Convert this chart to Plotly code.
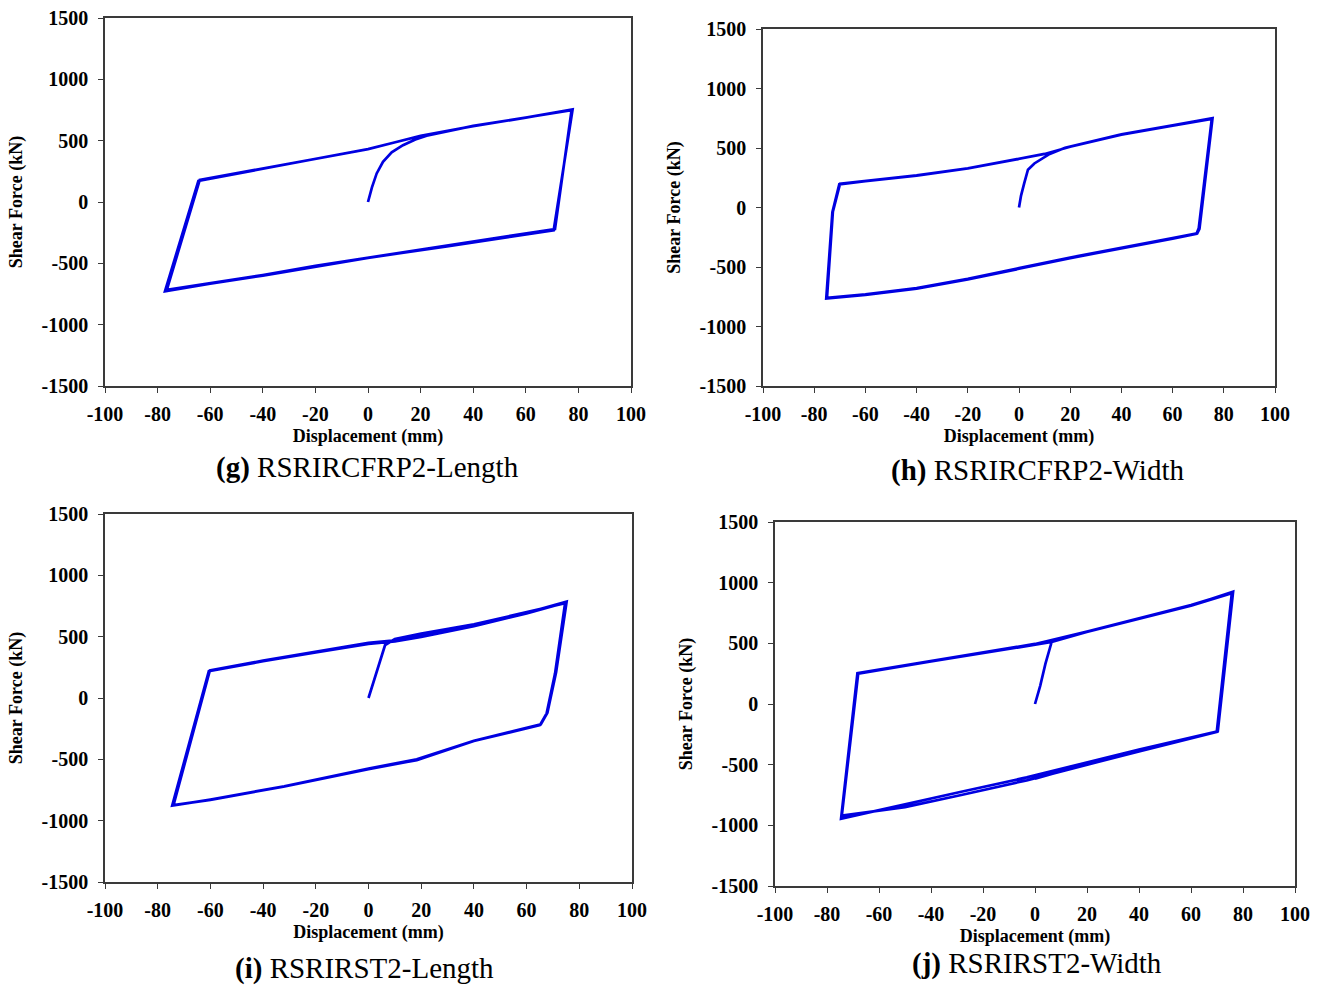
import plotly.graph_objects as go

# ---------------- data ----------------
x_ticks = [-100, -80, -60, -40, -20, 0, 20, 40, 60, 80, 100]
y_ticks = [-1500, -1000, -500, 0, 500, 1000, 1500]

captions = ["(g)", "(h)", "(i)", "(j)"]
caption_names = ["RSRIRCFRP2-Length", "RSRIRCFRP2-Width", "RSRIRST2-Length", "RSRIRST2-Width"]

g_disp = [0, 1.5, 3.3, 5.7, 9, 13.3, 18, 22.3, 40, 60, 77.4,
          71.1, 50, 30, 0, -20, -40, -60, -76.5,
          -64, -40, -20, 0, 20, 40, 60, 77.8,
          70.6, 50, 30, 0, -20, -40, -60, -77.2,
          -64.5, -40, -20, 0, 20]
g_force = [0, 120, 233, 328, 405, 463, 510, 540, 620, 690, 748,
           -220, -290, -355, -450, -520, -595, -660, -716,
           179, 275, 352, 430, 540, 618, 688, 755,
           -230, -298, -362, -455, -527, -600, -665, -728,
           172, 270, 350, 432, 538]

h_disp = [0, 0.8, 2, 3.5, 6, 8.2, 12, 18, 40, 60, 75.6,
          70.5, 69.6, 60, 40, 20, 0, -20, -40, -60, -75,
          -72.7, -69.9,
          -60, -40, -20, 0, 10, 20, 40, 60, 75.3,
          70.2, 69.3, 60, 40, 20, 0, -20, -40, -60, -75.3,
          -72.9, -70.2,
          -60, -40, -20, 0]
h_force = [0, 100, 200, 318, 370, 402, 450, 502, 615, 690, 751,
           -180, -218, -258, -340, -420, -510, -600, -678, -730, -760,
           -34, 200,
           225, 270, 330, 410, 450, 510, 612, 688, 745,
           -175, -222, -262, -345, -425, -515, -605, -683, -735, -765,
           -40, 195,
           222, 268, 328, 408]

i_disp = [0, 6.3, 10, 20, 40, 60, 74.6,
          70.8, 67.6, 65.1, 40, 18.3, 0, -32.3, -60, -74,
          -60.2, -40, -20, 0, 10, 20, 40, 60, 75.2,
          71.2, 67.9, 65.4, 40, 18.3, 0, -32, -60, -74.5,
          -60.6, -40, -20, 0, 10, 20, 40, 60, 75.0,
          71.0, 67.8, 65.2, 40, 18, 0]
i_force = [0, 432, 480, 525, 600, 700, 772,
           201, -125, -220, -351, -506, -580, -723, -830, -873,
           225, 305, 380, 450, 470, 505, 590, 695, 785,
           210, -120, -215, -348, -500, -575, -720, -828, -878,
           218, 300, 372, 440, 462, 497, 585, 690, 778,
           205, -122, -218, -350, -503, -578]

j_disp = [0, 2, 4, 6.4, 19.9, 40, 60, 75.7,
          69.9, 40, 20, -3.2, -28.8, -50, -74.3,
          -68, -40, -20, 0, 6.4, 19.9, 40, 60, 76.2,
          70.3, 40, 20, -3.2, -28.8, -50, -74.6,
          -68.3, -40, -20, 0, 20, 40, 60, 76.0,
          70.1, 40, 20, 0]
j_force = [0, 150, 330, 511, 593, 700, 810, 914,
           -231, -390, -500, -629, -752, -850, -920,
           250, 350, 420, 490, 511, 595, 702, 812, 925,
           -225, -375, -482, -605, -725, -828, -945,
           255, 355, 425, 495, 598, 705, 815, 920,
           -228, -385, -495, -615]

# ---------------- layout geometry (pixels) ----------------
W, H = 1320, 985
boxes = [  # left, right, top, bottom
    (105, 631, 18, 386),
    (763, 1275, 29, 386),
    (105, 632, 514, 882),
    (775, 1295, 522, 886),
]
caption_pos = [(367, 468), (1037, 471), (365, 968), (1037, 963)]

FONT = "Liberation Serif"
LINE = "rgb(0,0,225)"

fig = go.Figure()
series = [(g_disp, g_force), (h_disp, h_force), (i_disp, i_force), (j_disp, j_force)]
for k, (xs, ys) in enumerate(series):
    sfx = "" if k == 0 else str(k + 1)
    fig.add_trace(go.Scatter(x=xs, y=ys, mode="lines",
                             line=dict(color=LINE, width=2.7),
                             xaxis="x" + sfx, yaxis="y" + sfx,
                             showlegend=False, hoverinfo="skip"))

layout = dict(width=W, height=H, margin=dict(l=0, r=0, t=0, b=0, autoexpand=False),
              paper_bgcolor="white", plot_bgcolor="white",
              font=dict(family=FONT, color="black"), showlegend=False)

axis_common = dict(showgrid=False, zeroline=False, showline=True, mirror=True,
                   linecolor="#3a3a3a", linewidth=1.5, ticks="outside",
                   ticklen=5, tickwidth=1.3, tickcolor="#3a3a3a", automargin=False,
                   tickfont=dict(family=FONT, size=20, color="black", weight="bold"))

annotations = []
for k, (l, r, t, b) in enumerate(boxes):
    sfx = "" if k == 0 else str(k + 1)
    layout["xaxis" + sfx] = dict(axis_common, domain=[l / W, r / W], anchor="y" + sfx,
                                 range=[-100, 100], tickvals=x_ticks,
                                 ticktext=[str(v) for v in x_ticks],
                                 ticklabelstandoff=4,
                                 title=dict(text="Displacement (mm)", standoff=6,
                                            font=dict(family=FONT, size=18, weight="bold")))
    layout["yaxis" + sfx] = dict(axis_common, domain=[1 - b / H, 1 - t / H], anchor="x" + sfx,
                                 range=[-1500, 1500], tickvals=y_ticks,
                                 ticktext=[str(v) for v in y_ticks],
                                 ticklabelstandoff=6,
                                 title=dict(text="Shear Force (kN)", standoff=14,
                                            font=dict(family=FONT, size=18, weight="bold")))
    cx, cy = caption_pos[k]
    annotations.append(dict(text="<b>" + captions[k] + "</b> " + caption_names[k],
                            x=cx / W, y=1 - cy / H, xref="paper", yref="paper",
                            xanchor="center", yanchor="middle", showarrow=False,
                            font=dict(family=FONT, size=29, color="black")))

layout["annotations"] = annotations
fig.update_layout(**layout)
fig.write_html("out.html", config={"displayModeBar": False},
               post_script="document.body.style.margin='0px';document.body.style.overflow='hidden';")
